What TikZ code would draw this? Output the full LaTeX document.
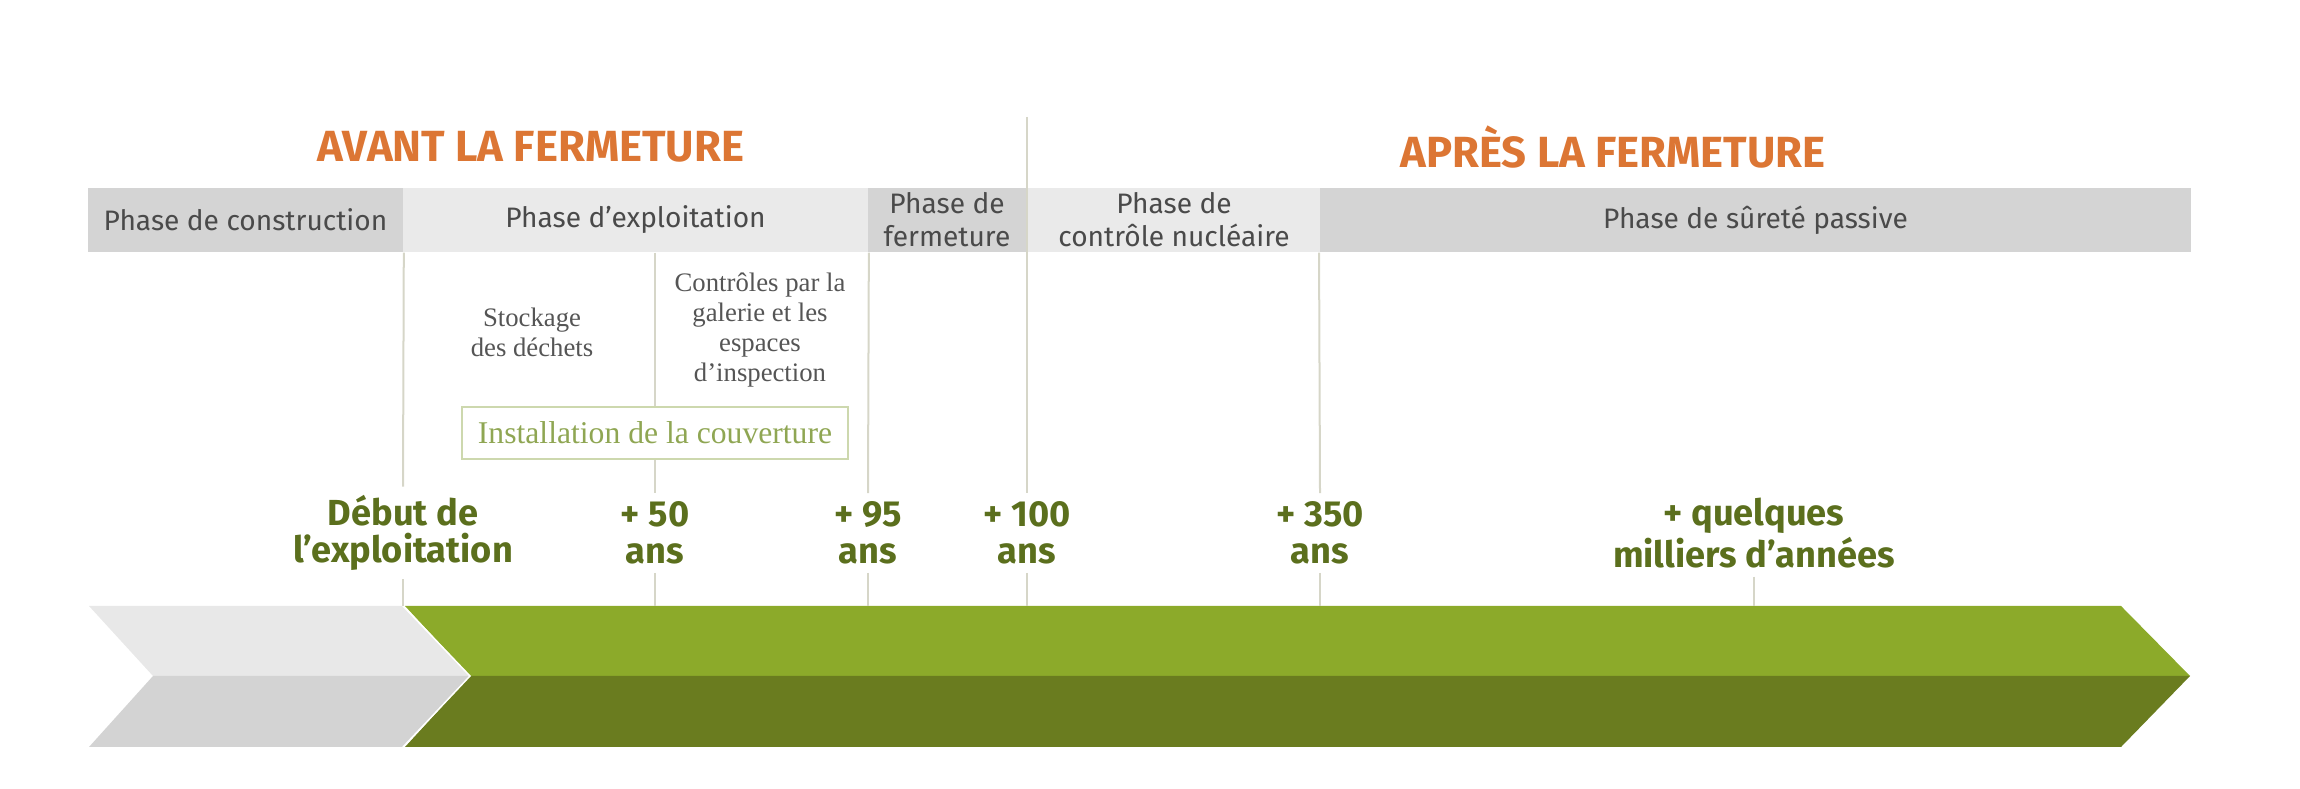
\documentclass[tikz,border=0pt]{standalone}
\usepackage{fontspec}
\setmainfont{Fira Sans}
\newfontfamily\notefont{Liberation Serif}
\definecolor{titreorange}{HTML}{DC7634}
\definecolor{phasedark}{HTML}{D4D4D4}
\definecolor{phaselight}{HTML}{EAEAEA}
\definecolor{phasetext}{HTML}{4A4A4A}
\definecolor{notetext}{HTML}{555555}
\definecolor{couvgreen}{HTML}{8FA653}
\definecolor{couvline}{HTML}{CDD8AE}
\definecolor{jalongreen}{HTML}{5B6F1D}
\definecolor{traitcol}{HTML}{D6D6C8}
\definecolor{greentop}{HTML}{8CAA2A}
\definecolor{greenbot}{HTML}{6A7C1F}
\definecolor{greytop}{HTML}{E8E8E8}
\definecolor{greybot}{HTML}{D3D3D3}
\tikzset{
  titre/.style={font=\fontsize{12.4}{14}\selectfont\bfseries, text=titreorange},
  phase/.style={minimum height=0.64cm, inner sep=0pt, align=center,
    font=\fontsize{8}{9.4}\selectfont, text=phasetext},
  note/.style={align=center, inner sep=0pt, font=\notefont\fontsize{7.6}{8.5}\selectfont, text=notetext},
  couv/.style={draw=couvline, line width=0.015cm, minimum width=3.86cm, minimum height=0.52cm,
    inner sep=0pt, font=\notefont\fontsize{9}{10}\selectfont, text=couvgreen},
  jalon/.style={align=center, inner sep=0.08cm, font=\fontsize{10.3}{10.5}\selectfont\bfseries, text=jalongreen},
  trait/.style={draw=traitcol, line width=0.02cm}
}
\begin{document}
\begin{tikzpicture}[x=0.01cm,y=-0.01cm]
	\useasboundingbox (0,0) rectangle (2300,789);
	% titres
	\node[titre] at (531,147) (avant) {AVANT LA FERMETURE};
	\node[titre] at (1613,147) (apres) {APRÈS LA FERMETURE};
	% bandeau des phases
	\node[phase, fill=phasedark, minimum width=3.15cm] at (245.5,220) (constr) {Phase de construction};
	\node[phase, fill=phaselight, minimum width=4.65cm] at (635.5,220) (expl) {Phase d’exploitation};
	\node[phase, fill=phasedark, minimum width=1.58cm] at (947,220) (ferm) {Phase de\\fermeture};
	\node[phase, fill=phaselight, minimum width=2.92cm] at (1174,220) (ctrl) {Phase de\\contrôle nucléaire};
	\node[phase, fill=phasedark, minimum width=8.71cm] at (1755.5,220) (surete) {Phase de sûreté passive};
	% notes
	\node[note] at (532,332) (stock) {Stockage\\des déchets};
	\node[note] at (760,330) (insp) {Contrôles par la\\galerie et les\\espaces\\d’inspection};
	\node[couv] at (655,433) (couv) {Installation de la couverture};
	% jalons
	\node[jalon] at (403,533) (debut) {Début de\\l’exploitation};
	\node[jalon] at (655,533) (p50) {+ 50\\ans};
	\node[jalon] at (868,533) (p95) {+ 95\\ans};
	\node[jalon] at (1027,533) (p100) {+ 100\\ans};
	\node[jalon] at (1320,533) (p350) {+ 350\\ans};
	\node[jalon] at (1754,533) (pmil) {+ quelques\\milliers d’années};
	\coordinate (sep) at (1027,117);
	\coordinate (bar) at (0,606);
	% fleche
	\fill[greytop] (89,606) -- (403,606) -- (470,676) -- (153,676) -- cycle;
	\fill[greybot] (153,676) -- (470,676) -- (403,747) -- (89,747) -- cycle;
	\fill[greentop] (405,606) -- (2121,606) -- (2190,676) -- (470,676) -- cycle;
	\fill[greenbot] (470,676) -- (2190,676) -- (2121,747) -- (405,747) -- cycle;
	\draw[white, line width=0.015cm] (403,606) -- (470,676) -- (403,747);
	% traits
	\path (constr.south east) edge[trait] (debut.north)
	(couv.north |- expl.south) edge[trait] (couv.north)
	(couv.south) edge[trait] (p50.north)
	(expl.south east) edge[trait] (p95.north)
	(sep) edge[trait] (p100.north)
	(surete.south west) edge[trait] (p350.north)
	(debut.south) edge[trait] (debut.south |- bar)
	(p50.south) edge[trait] (p50.south |- bar)
	(p95.south) edge[trait] (p95.south |- bar)
	(p100.south) edge[trait] (p100.south |- bar)
	(p350.south) edge[trait] (p350.south |- bar)
	(pmil.south) edge[trait] (pmil.south |- bar);
\end{tikzpicture}
\end{document}
